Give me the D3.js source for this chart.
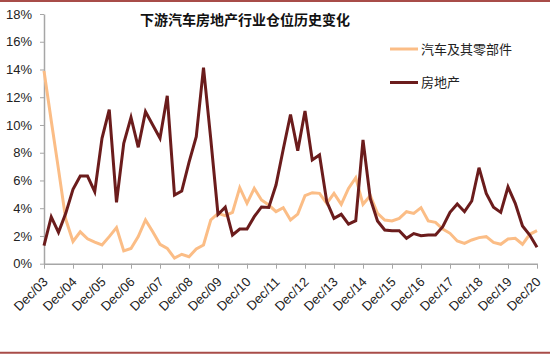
<!DOCTYPE html>
<html>
<head>
<meta charset="utf-8">
<script src="https://cdn.jsdelivr.net/npm/d3@7"></script>
<style>
  html, body { margin: 0; padding: 0; background: #ffffff; }
  svg { display: block; }
</style>
</head>
<body>
<script>
// ---- data ----
const yearLabels = ["Dec/03","Dec/04","Dec/05","Dec/06","Dec/07","Dec/08","Dec/09","Dec/10","Dec/11","Dec/12","Dec/13","Dec/14","Dec/15","Dec/16","Dec/17","Dec/18","Dec/19","Dec/20"];
const seriesNames = ["汽车及其零部件", "房地产"];
const autoValues = [13.9, 10.3, 6.8, 3.2, 1.6, 2.3, 1.8, 1.55, 1.35, 1.95,
  2.6, 0.92, 1.1, 1.95, 3.15, 2.3, 1.4, 1.1, 0.4, 0.68,
  0.5, 1.06, 1.35, 3.15, 3.63, 3.46, 3.7, 5.48, 4.35, 5.43,
  4.59, 4.23, 3.75, 4.04, 3.15, 3.58, 4.9, 5.12, 5.07, 4.35,
  5.07, 4.28, 5.43, 6.2, 4.28, 4.9, 3.63, 3.15, 3.08, 3.27,
  3.75, 3.63, 4.04, 3.08, 2.98, 2.5, 2.19, 1.64, 1.47, 1.71,
  1.88, 1.95, 1.54, 1.4, 1.78, 1.83, 1.4, 2.12, 2.38];
const realEstateValues = [1.3, 3.37, 2.26, 3.63, 5.36, 6.32, 6.32, 5.19, 9.04, 11.1,
  4.42, 8.68, 10.55, 8.39, 10.96, 10.0, 9.04, 12.1, 4.95, 5.24,
  7.3, 9.16, 14.13, 9.0, 3.55, 4.07, 2.07, 2.5, 2.5, 3.39,
  4.09, 4.05, 5.67, 8.25, 10.76, 8.15, 11.01, 7.48, 7.84, 4.47,
  3.27, 3.56, 2.86, 3.1, 8.92, 4.71, 3.08, 2.43, 2.38, 2.38,
  1.83, 2.17, 2.02, 2.07, 2.07, 2.67, 3.7, 4.3, 3.75, 4.52,
  6.92, 5.07, 4.07, 3.7, 5.53, 4.35, 2.72, 2.07, 1.18];
const yTicks = [0, 2, 4, 6, 8, 10, 12, 14, 16, 18];

// quarterly categories: each year label followed by Mar/Jun/Sep of next year
const qNames = ["Mar", "Jun", "Sep"];
const categories = [];
yearLabels.forEach((lab, i) => {
  categories.push(lab);
  if (i < yearLabels.length - 1) {
    const yy = yearLabels[i + 1].slice(4);
    qNames.forEach(q => categories.push(q + "/" + yy));
  }
});

const colors = ["#fbbd86", "#6b1c1c"];
const W = 550, H = 355;
const svg = d3.select("body").append("svg").attr("width", W).attr("height", H);
svg.append("rect").attr("width", W).attr("height", H).attr("fill", "#fff");

// borders
svg.append("line").attr("x1", 0).attr("x2", W).attr("y1", 1).attr("y2", 1)
  .attr("stroke", "#a84c48").attr("stroke-width", 2);
svg.append("line").attr("x1", 0).attr("x2", W).attr("y1", 352.7).attr("y2", 352.7)
  .attr("stroke", "#a84c48").attr("stroke-width", 2);

const x = d3.scalePoint().domain(categories).range([44, 537]);
const y = d3.scaleLinear().domain([0, 18]).range([263.7, 14]);

const fontLatin = "'Liberation Sans', Arial, sans-serif";
const fontCJK = "'Noto Sans CJK SC', sans-serif";

// y axis
const yAxis = svg.append("g").attr("transform", "translate(44,0)")
  .call(d3.axisLeft(y).tickValues(yTicks).tickSize(4).tickSizeOuter(0).tickPadding(8)
    .tickFormat(d => d + "%"));
yAxis.select(".domain").attr("stroke", "#a6a6a6").attr("stroke-width", 1.5);
yAxis.selectAll(".tick line").attr("stroke", "#a6a6a6");
yAxis.selectAll("text").attr("font-family", fontLatin).attr("font-size", 13).attr("fill", "#222");

// x axis
const xAxis = svg.append("g").attr("transform", "translate(0,263.7)")
  .call(d3.axisBottom(x).tickValues(yearLabels).tickSize(5).tickSizeOuter(0));
xAxis.select(".domain").attr("stroke", "#a6a6a6").attr("stroke-width", 1.5);
xAxis.selectAll(".tick line").attr("stroke", "#a6a6a6");
xAxis.selectAll("text")
  .attr("font-family", fontLatin).attr("font-size", 13).attr("fill", "#222")
  .attr("text-anchor", "end")
  .attr("dy", 0).attr("y", 0)
  .attr("transform", "translate(4,19) rotate(-45)");

// lines
const line = d3.line().x((d, i) => x(categories[i])).y(d => y(d));
[autoValues, realEstateValues].forEach((vals, k) => {
  svg.append("path").datum(vals)
    .attr("fill", "none").attr("stroke", colors[k]).attr("stroke-width", 3)
    .attr("stroke-linejoin", "miter").attr("d", line);
});

// title
svg.append("text").attr("x", 245).attr("y", 25).attr("text-anchor", "middle")
  .attr("font-family", fontCJK).attr("font-size", 14).attr("font-weight", "bold")
  .attr("fill", "#111").text("下游汽车房地产行业仓位历史变化");

// legend
const legendY = [49, 82.5];
seriesNames.forEach((name, k) => {
  svg.append("line").attr("x1", 390).attr("x2", 418).attr("y1", legendY[k]).attr("y2", legendY[k])
    .attr("stroke", colors[k]).attr("stroke-width", 3);
  svg.append("text").attr("x", 421).attr("y", legendY[k]).attr("dy", "0.35em")
    .attr("font-family", fontCJK).attr("font-size", 13).attr("fill", "#222").text(name);
});
</script>
</body>
</html>
